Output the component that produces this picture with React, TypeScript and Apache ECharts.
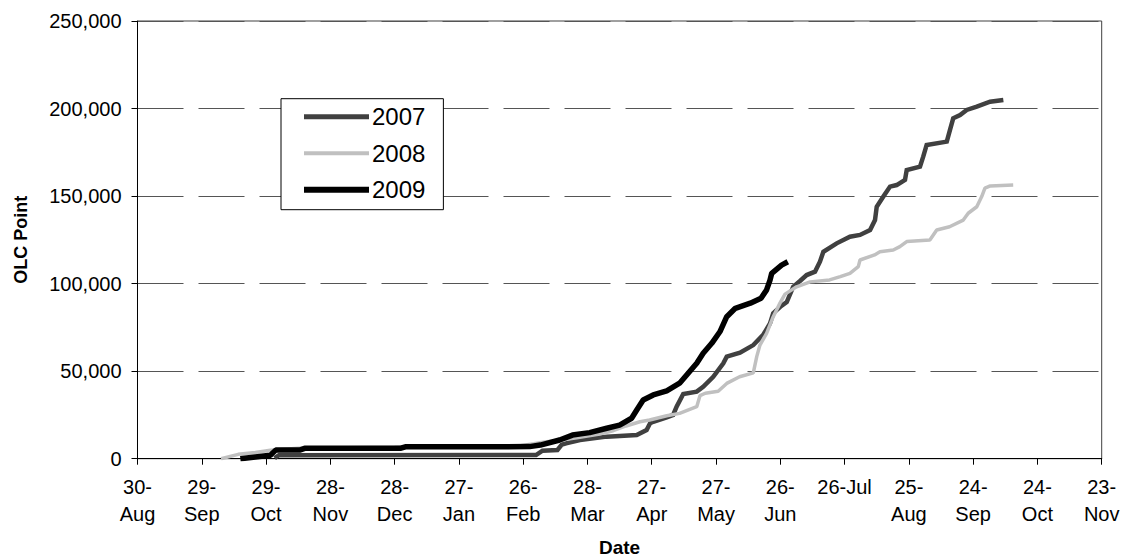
import React, { useEffect, useRef } from "react";
import * as echarts from "echarts";

// x axis: days counted from 30-Aug, one tick every 30 days
const xTickLabels = [
  "30-\nAug", "29-\nSep", "29-\nOct", "28-\nNov", "28-\nDec", "27-\nJan", "26-\nFeb", "28-\nMar",
  "27-\nApr", "27-\nMay", "26-\nJun", "26-Jul", "25-\nAug", "24-\nSep", "24-\nOct", "23-\nNov",
];
const seriesNames = ["2007", "2008", "2009"];

const days2007 = [64, 66, 186, 189, 196, 198, 200, 206.5, 219, 233, 237.6, 239.2, 240.7, 247, 250, 251.6, 254.7, 261, 264, 268.7, 273.4, 275, 281.2, 287.4, 292, 295.2, 296.7, 300, 303, 306, 309.2, 312.3, 316.2, 318.5, 320.1, 326.3, 332.5, 337.2, 341.9, 344.2, 345, 348.1, 351.2, 354.3, 358.2, 359, 365.2, 366.7, 368.3, 377.7, 379.2, 380.7, 383.9, 387, 391.7, 397.9, 404.1];
const values2007 = [300, 2000, 2100, 4600, 5000, 8000, 8800, 10700, 12600, 13500, 16400, 20200, 21100, 23600, 25000, 29700, 37000, 38300, 41100, 46800, 54500, 58300, 60500, 64900, 70700, 77300, 83100, 86800, 89500, 98200, 101500, 104900, 106800, 112500, 118200, 123000, 126800, 127800, 130600, 136300, 143900, 149700, 155400, 156300, 159200, 164900, 166800, 172500, 179200, 181100, 187800, 194400, 196300, 199200, 201100, 203900, 204900];

const days2008 = [39, 47, 55, 62, 75, 120, 128, 178, 185, 190, 197, 205, 215, 222, 228, 234.5, 239, 247, 253, 261, 262.5, 265, 271, 275, 281, 287.4, 289, 290.5, 293.6, 296.7, 299.9, 302.2, 307.6, 313.9, 323, 328, 332.5, 336.4, 337.2, 344, 346.5, 352.7, 355.8, 359, 369.8, 373, 379, 385.4, 387.7, 391.7, 394, 395.5, 398, 408.7];
const values2008 = [0, 2500, 3500, 4800, 6000, 6500, 7000, 7200, 8500, 9500, 10500, 12000, 14000, 16000, 18700, 21100, 22100, 24500, 25900, 29700, 36000, 37400, 38500, 43000, 46800, 49000, 58300, 64900, 71600, 81100, 89000, 94000, 98200, 101000, 102100, 104000, 105900, 109700, 113500, 116400, 118200, 119200, 121100, 124000, 124900, 130600, 132500, 136300, 140200, 143900, 149700, 154500, 155800, 156300];

const days2009 = [48, 55, 62, 64.5, 76, 78, 123, 125, 183, 188, 197, 203, 211, 219, 225, 230.6, 233, 236, 240.7, 247, 253, 257, 261, 264, 268, 271.8, 275, 279, 286, 291, 293.6, 295.2, 296, 300.6, 303.5];
const values2009 = [0, 1000, 2000, 4900, 5000, 5900, 6000, 6800, 6900, 7800, 10700, 13500, 14900, 17400, 19200, 23100, 27800, 33500, 36400, 38800, 43100, 48800, 54500, 60200, 65900, 72500, 81100, 85900, 88800, 91600, 96400, 102000, 105900, 110600, 112500];

const FONT = '"Liberation Sans", Arial, sans-serif';

function pairs(days: number[], vals: number[]) {
  return days.map((d, i) => [d, vals[i]]);
}

export default function App() {
  const ref = useRef<HTMLDivElement>(null);
  useEffect(() => {
    if (!ref.current) return;
    const chart = echarts.init(ref.current, null, { renderer: "svg" });
    chart.setOption({
      animation: false,
      backgroundColor: "#ffffff",
      grid: {
        left: 137.5,
        right: 26.3,
        top: 21,
        bottom: 101.3,
        containLabel: false,
        outerBoundsMode: "none",
        show: true,
        borderColor: "#404040",
        borderWidth: 1,
        backgroundColor: "transparent",
      },
      legend: {
        orient: "vertical",
        left: 281,
        top: 98.7,
        padding: [6, 18, 8, 23],
        itemGap: 12.5,
        itemWidth: 65,
        itemHeight: 14,
        borderColor: "#000",
        borderWidth: 1,
        backgroundColor: "#fff",
        textStyle: { fontFamily: FONT, fontSize: 24, color: "#000", padding: [0, 0, 0, -2] },
        data: [
          { name: seriesNames[0], icon: "path://M0,0H65V5H0Z", itemStyle: { color: "#404040" } },
          { name: seriesNames[1], icon: "path://M0,0H65V4H0Z", itemStyle: { color: "#c0c0c0" } },
          { name: seriesNames[2], icon: "path://M0,0H65V6H0Z", itemStyle: { color: "#000000" } },
        ],
      },
      xAxis: {
        type: "value",
        min: 0,
        max: 450,
        interval: 30,
        name: "Date",
        nameLocation: "middle",
        nameGap: 79,
        nameTextStyle: { fontFamily: FONT, fontSize: 19, fontWeight: "bold", color: "#000" },
        axisLine: { show: true, lineStyle: { color: "#000", width: 1 } },
        axisTick: { show: true, length: 6, lineStyle: { color: "#000" } },
        axisLabel: {
          fontFamily: FONT,
          fontSize: 20,
          lineHeight: 27,
          color: "#000",
          margin: 15,
          verticalAlign: "top",
          formatter: (v: number) => xTickLabels[Math.round(v / 30)] ?? "",
        },
        splitLine: { show: false },
      },
      yAxis: {
        type: "value",
        min: 0,
        max: 250000,
        interval: 50000,
        name: "OLC Point",
        nameLocation: "middle",
        nameRotate: 90,
        nameGap: 108,
        nameTextStyle: { fontFamily: FONT, fontSize: 18, fontWeight: "bold", color: "#000" },
        axisLine: { show: true, lineStyle: { color: "#000", width: 1 } },
        axisTick: { show: true, length: 6, lineStyle: { color: "#000" } },
        axisLabel: {
          fontFamily: FONT,
          fontSize: 20,
          color: "#000",
          margin: 16,
          formatter: (v: number) => v.toLocaleString("en-US"),
        },
        splitLine: { show: true, lineStyle: { color: "#555", width: 1, type: [46, 15] } },
      },
      series: [
        {
          name: seriesNames[0],
          type: "line",
          symbol: "none",
          data: pairs(days2007, values2007),
          lineStyle: { color: "#404040", width: 4.5, join: "miter" },
          itemStyle: { color: "#404040" },
          z: 2,
        },
        {
          name: seriesNames[1],
          type: "line",
          symbol: "none",
          data: pairs(days2008, values2008),
          lineStyle: { color: "#c0c0c0", width: 3.5 },
          itemStyle: { color: "#c0c0c0" },
          z: 3,
        },
        {
          name: seriesNames[2],
          type: "line",
          symbol: "none",
          data: pairs(days2009, values2009),
          lineStyle: { color: "#000000", width: 5.5 },
          itemStyle: { color: "#000000" },
          z: 4,
        },
      ],
    });
    return () => chart.dispose();
  }, []);
  return (
    <div
      ref={ref}
      style={{ position: "absolute", left: 0, top: 0, width: 1128, height: 560, background: "#fff" }}
    />
  );
}
